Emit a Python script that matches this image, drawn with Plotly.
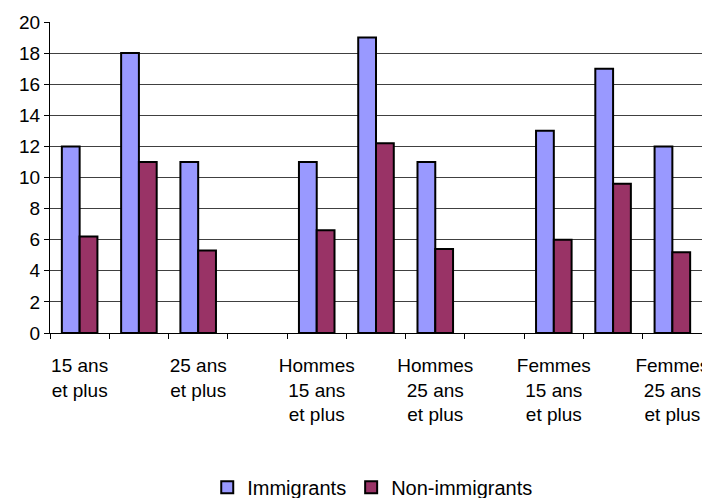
import plotly.graph_objects as go

categories = [
    "15 ans et plus", "15 à 24 ans", "25 ans et plus", "",
    "Hommes 15 ans et plus", "Hommes 15 à 24 ans", "Hommes 25 ans et plus", " ",
    "Femmes 15 ans et plus", "Femmes 15 à 24 ans", "Femmes 25 ans et plus",
]
tick_labels = [
    "15 ans<br>et plus", "", "25 ans<br>et plus", "",
    "Hommes<br>15 ans<br>et plus", "", "Hommes<br>25 ans<br>et plus", "",
    "Femmes<br>15 ans<br>et plus", "", "Femmes<br>25 ans<br>et plus",
]
immigrants = [12, 18, 11, None, 11, 19, 11, None, 13, 17, 12]
non_immigrants = [6.2, 11, 5.3, None, 6.6, 12.2, 5.4, None, 6.0, 9.6, 5.2]

positions = list(range(len(categories)))

fig = go.Figure()
fig.add_trace(go.Bar(x=positions, y=immigrants, name="Immigrants",
                     marker=dict(color="#9999FF", line=dict(color="#000000", width=2))))
fig.add_trace(go.Bar(x=positions, y=non_immigrants, name="Non-immigrants",
                     marker=dict(color="#993366", line=dict(color="#000000", width=2))))
# invisible helper trace for label axis
fig.add_trace(go.Scatter(x=positions, y=[0] * len(positions), xaxis="x2", mode="none",
                         showlegend=False, hoverinfo="skip"))

boundaries = [p - 0.5 for p in positions] + [positions[-1] + 0.5]
lab_vals = [p for p, t in zip(positions, tick_labels) if t]
lab_text = [t for t in tick_labels if t]

fig.update_layout(
    width=702, height=490,
    margin=dict(l=42, r=8, t=14, b=165),
    paper_bgcolor="white", plot_bgcolor="white",
    font=dict(family="Liberation Sans, Arial, sans-serif", size=19, color="#000000"),
    barmode="group", bargap=0.4, bargroupgap=0,
    showlegend=True,
    legend=dict(orientation="h", xref="paper", x=0.495, xanchor="center",
                yref="container", y=0.022, yanchor="middle",
                font=dict(size=20), tracegroupgap=0),
    xaxis=dict(range=[-0.5, 10.5], tickvals=boundaries, ticktext=[""] * len(boundaries),
               ticks="outside", ticklen=5, tickcolor="#000000", showline=True,
               linecolor="#000000", linewidth=1, showgrid=False, zeroline=False,
               automargin=False),
    xaxis2=dict(range=[-0.5, 10.5], overlaying="x", anchor="y", side="bottom",
                tickvals=lab_vals, ticktext=lab_text, ticks="outside", ticklen=15,
                tickcolor="rgba(0,0,0,0)", showline=False,
                showgrid=False, zeroline=False, tickfont=dict(size=19),
                automargin=False, ticklabeloverflow="allow"),
    yaxis=dict(range=[0, 20], dtick=2, ticks="outside", ticklen=5, tickcolor="#000000",
               showline=True, linecolor="#000000", linewidth=1,
               showgrid=True, gridcolor="#404040", gridwidth=1, zeroline=False,
               tickfont=dict(size=19), automargin=False),
)

fig.write_html("out.html")
